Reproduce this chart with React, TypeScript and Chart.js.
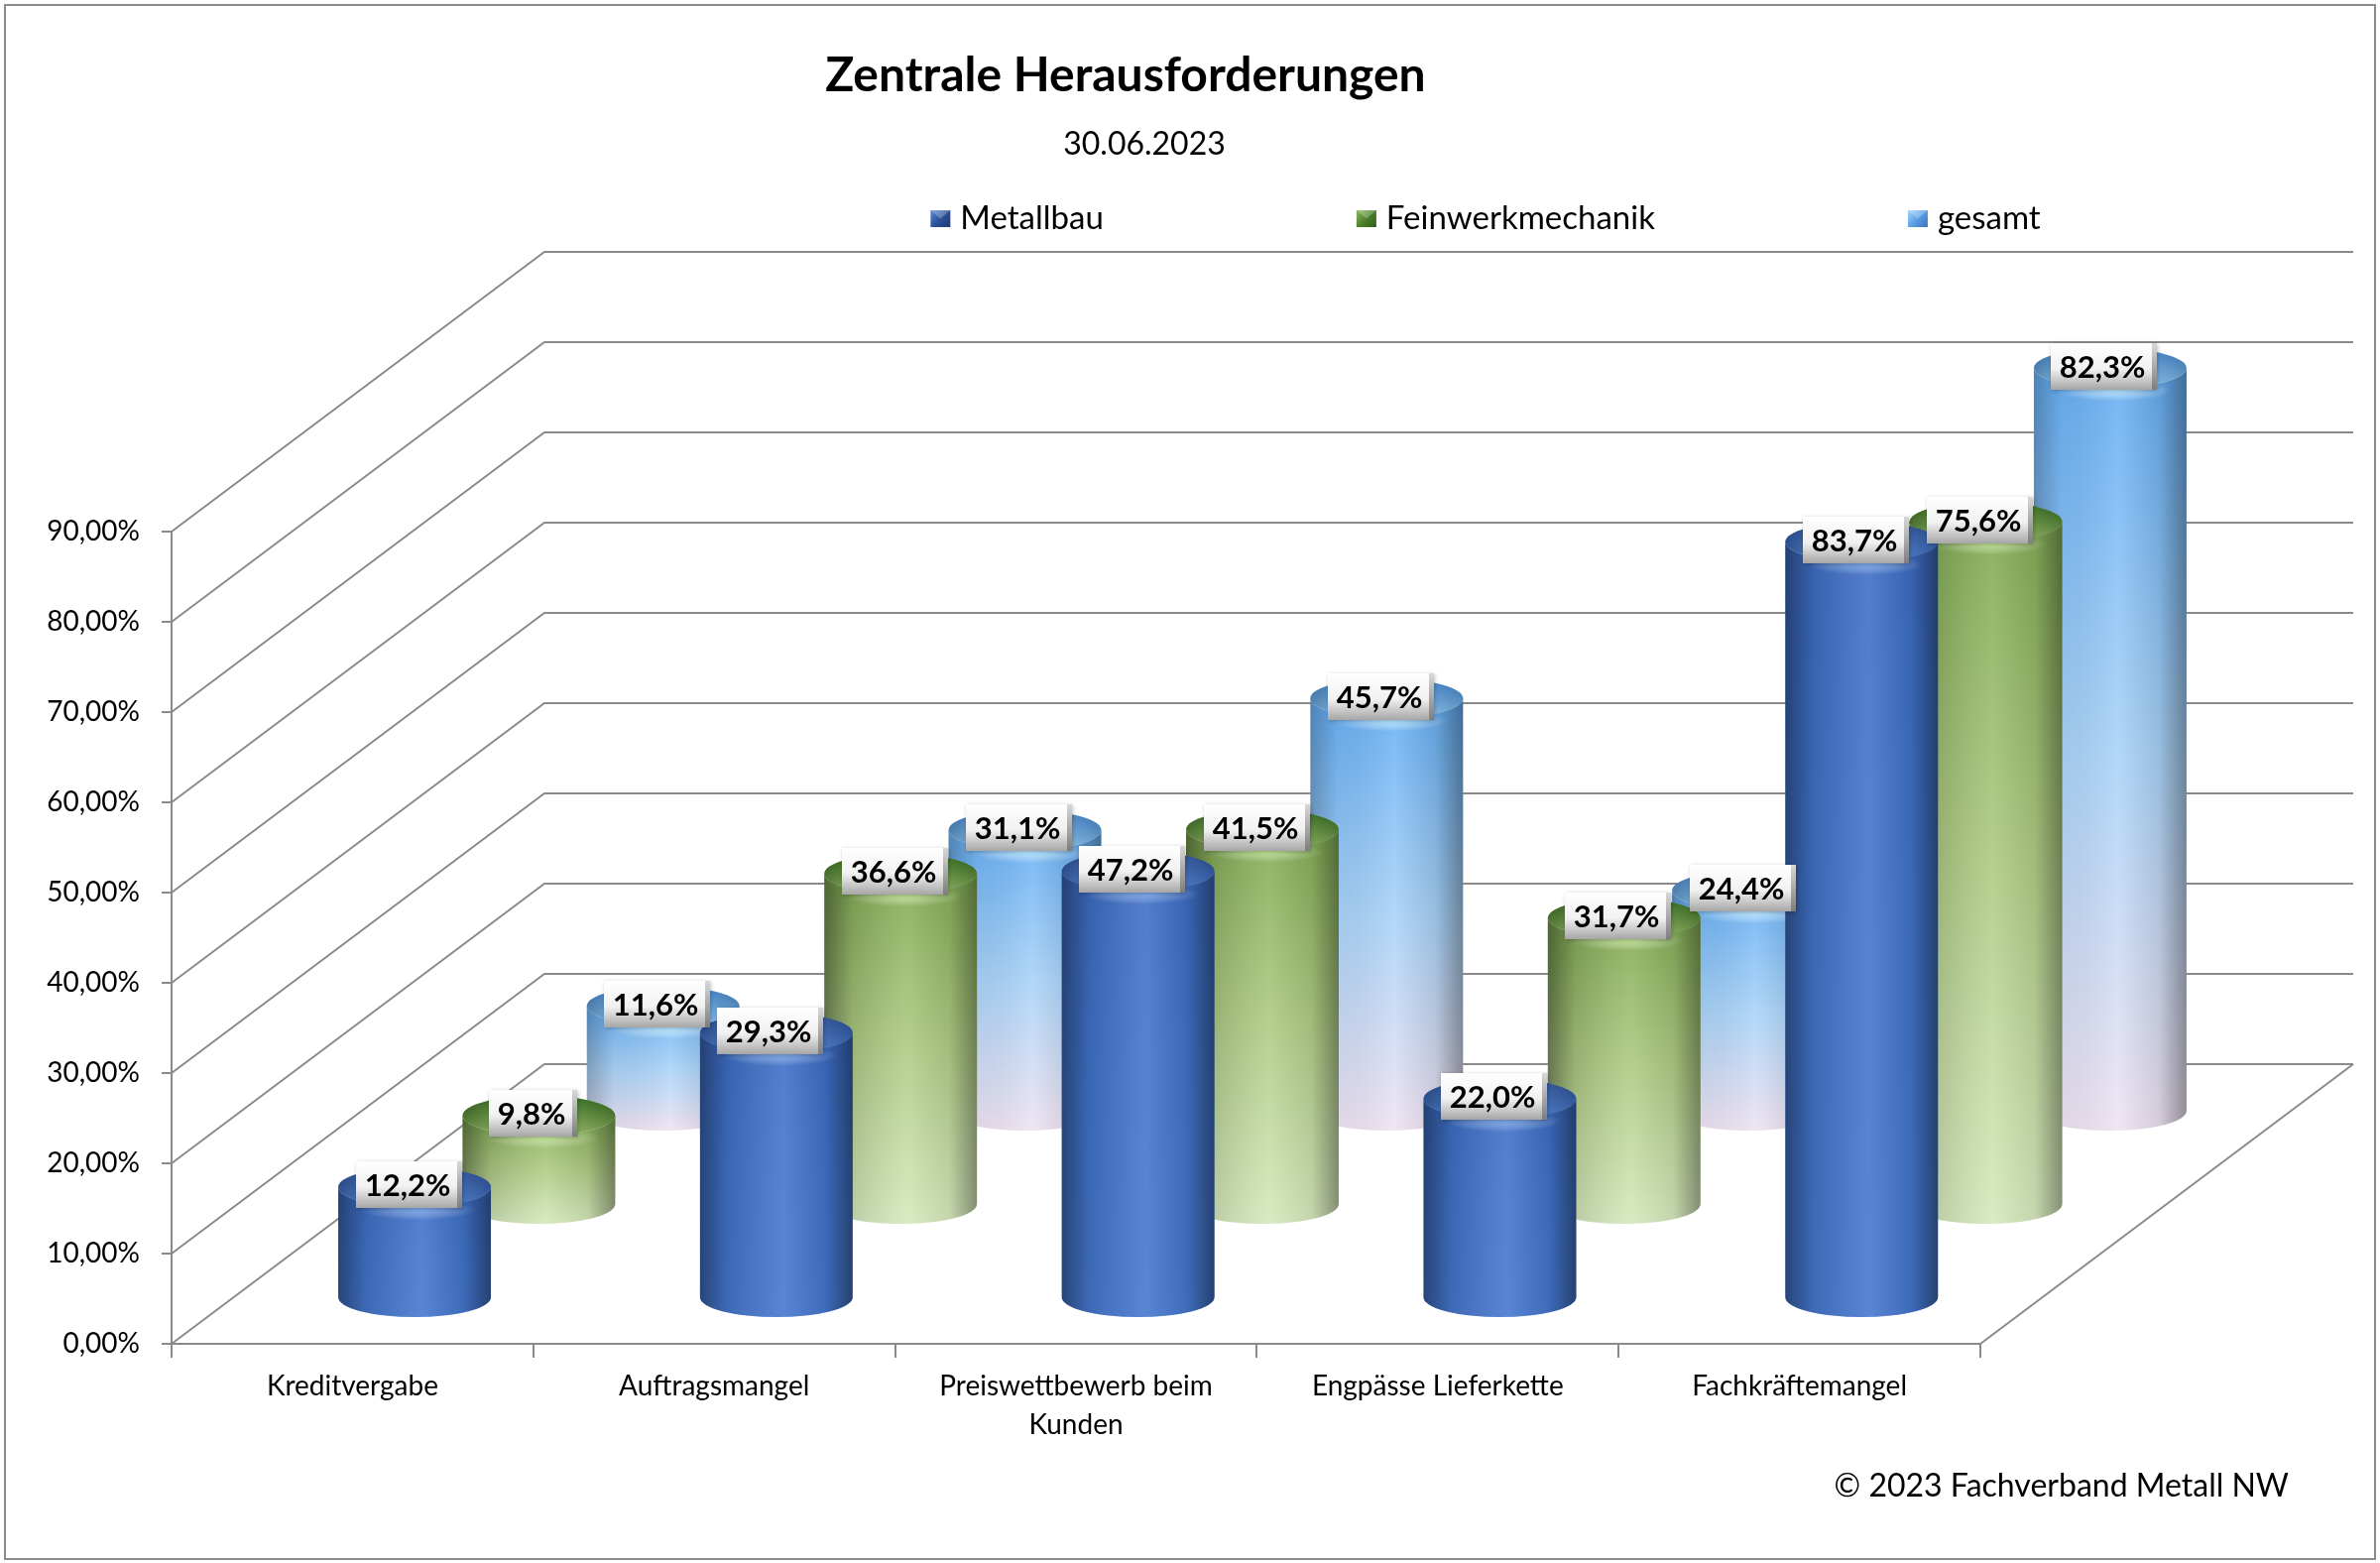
import React, { useEffect, useRef } from 'react';
import { Chart, registerables } from 'chart.js';

Chart.register(...registerables);

// ---------- data ----------
const categories: (string | string[])[] = [
  'Kreditvergabe',
  'Auftragsmangel',
  ['Preiswettbewerb beim', 'Kunden'],
  'Engpässe Lieferkette',
  'Fachkräftemangel',
];
const seriesNames = ['Metallbau', 'Feinwerkmechanik', 'gesamt'];
const metallbau = [12.2, 29.3, 47.2, 22.0, 83.7];
const feinwerkmechanik = [9.8, 36.6, 41.5, 31.7, 75.6];
const gesamt = [11.6, 31.1, 45.7, 24.4, 82.3];
const yMin = 0;
const yMax = 90;
const yStep = 10;
const chartTitle = 'Zentrale Herausforderungen';
const chartSubtitle = '30.06.2023';
const copyright = '© 2023 Fachverband Metall NW';

// ---------- styling ----------
const FONT = 'Lato, "Open Sans", "DejaVu Sans", sans-serif';
const LINE = '#8a8a8a';
const DX = 376; // depth offset x
const DY = -282; // depth offset y

type Pal = {
  side: [string, string, string];
  shade: [number, number, number, number, number];
  topBack: string;
  topFront: string;
  glow: string;
  legend: [string, string, string];
};

const palettes: Pal[] = [
  {
    side: ['#3e6ec6', '#4275cd', '#4577cf'],
    shade: [0.42, 0.12, -0.1, 0.1, 0.45],
    topBack: '#2a519e',
    topFront: '#4a7fd6',
    glow: 'rgba(150,200,255,0.55)',
    legend: ['#5b8ad8', '#2c4f98', '#1d3a78'],
  },
  {
    side: ['#82ab55', '#b0cc86', '#d7e9be'],
    shade: [0.42, 0.12, -0.08, 0.08, 0.38],
    topBack: '#2f6c17',
    topFront: '#93bb62',
    glow: 'rgba(220,255,170,0.6)',
    legend: ['#8ab65a', '#4d7f2a', '#2f5c17'],
  },
  {
    side: ['#66aef3', '#a9d3f8', '#efe3f2'],
    shade: [0.25, 0.05, -0.1, 0.1, 0.38],
    topBack: '#3f86d4',
    topFront: '#8ecaf8',
    glow: 'rgba(200,245,255,0.7)',
    legend: ['#a8d4fa', '#5a9ee6', '#3a70b8'],
  },
];

function fmtTick(v: number) {
  return v.toFixed(2).replace('.', ',') + '%';
}
function fmtLabel(v: number) {
  return v.toFixed(1).replace('.', ',') + '%';
}

function shadeStop(a: number) {
  return a >= 0 ? `rgba(0,0,0,${a})` : `rgba(255,255,255,${-a})`;
}

function drawCylinder(
  ctx: CanvasRenderingContext2D,
  cx: number,
  topY: number,
  baseY: number,
  r: number,
  ry: number,
  p: Pal
) {
  ctx.save();
  // side
  const side = new Path2D();
  side.moveTo(cx - r, topY);
  side.lineTo(cx - r, baseY);
  side.ellipse(cx, baseY, r, ry, 0, Math.PI, 0, true);
  side.lineTo(cx + r, topY);
  side.ellipse(cx, topY, r, ry, 0, 0, Math.PI, false);
  side.closePath();
  const vg = ctx.createLinearGradient(0, topY, 0, baseY + ry);
  vg.addColorStop(0, p.side[0]);
  vg.addColorStop(0.5, p.side[1]);
  vg.addColorStop(1, p.side[2]);
  ctx.fillStyle = vg;
  ctx.fill(side);
  const hg = ctx.createLinearGradient(cx - r, 0, cx + r, 0);
  hg.addColorStop(0, shadeStop(p.shade[0]));
  hg.addColorStop(0.18, shadeStop(p.shade[1]));
  hg.addColorStop(0.55, shadeStop(p.shade[2]));
  hg.addColorStop(0.82, shadeStop(p.shade[3]));
  hg.addColorStop(1, shadeStop(p.shade[4]));
  ctx.fillStyle = hg;
  ctx.fill(side);

  // glow just below the top rim
  ctx.save();
  ctx.clip(side);
  const gx = cx + r * 0.05;
  const gy = topY + ry * 1.15;
  ctx.translate(gx, gy);
  ctx.scale(1, 0.18);
  const rg = ctx.createRadialGradient(0, 0, 0, 0, 0, r * 0.75);
  rg.addColorStop(0, p.glow);
  rg.addColorStop(1, 'rgba(255,255,255,0)');
  ctx.fillStyle = rg;
  ctx.beginPath();
  ctx.arc(0, 0, r * 0.75, 0, Math.PI * 2);
  ctx.fill();
  ctx.restore();

  // top
  const tg = ctx.createLinearGradient(0, topY - ry, 0, topY + ry);
  tg.addColorStop(0, p.topBack);
  tg.addColorStop(1, p.topFront);
  ctx.fillStyle = tg;
  ctx.beginPath();
  ctx.ellipse(cx, topY, r, ry, 0, 0, Math.PI * 2);
  ctx.fill();
  const th = ctx.createLinearGradient(cx - r, 0, cx + r, 0);
  th.addColorStop(0, 'rgba(0,0,0,0.25)');
  th.addColorStop(0.5, 'rgba(255,255,255,0.08)');
  th.addColorStop(1, 'rgba(0,0,0,0.2)');
  ctx.fillStyle = th;
  ctx.fill();
  ctx.restore();
}

function drawLabel(ctx: CanvasRenderingContext2D, x: number, y: number, text: string) {
  ctx.save();
  ctx.font = `bold 31px ${FONT}`;
  const tw = ctx.measureText(text).width;
  const w = Math.round(tw + 20);
  const h = 47;
  const bx = Math.round(x - w / 2);
  const by = Math.round(y - h / 2);
  ctx.shadowColor = 'rgba(0,0,0,0.25)';
  ctx.shadowBlur = 4;
  ctx.shadowOffsetX = 1;
  ctx.shadowOffsetY = 1;
  const g = ctx.createLinearGradient(0, by, 0, by + h);
  g.addColorStop(0, '#ffffff');
  g.addColorStop(0.55, '#f1f1f1');
  g.addColorStop(1, '#a6a6a6');
  ctx.fillStyle = g;
  ctx.fillRect(bx, by, w, h);
  ctx.shadowColor = 'transparent';
  const rg = ctx.createLinearGradient(0, by, 0, by + h);
  rg.addColorStop(0, '#d8d8d8');
  rg.addColorStop(1, '#7d7d7d');
  ctx.fillStyle = rg;
  ctx.fillRect(bx + w - 5, by, 5, h);
  ctx.fillStyle = '#000';
  ctx.textAlign = 'center';
  ctx.textBaseline = 'middle';
  ctx.fillText(text, bx + (w - 5) / 2 + 1, by + h / 2 + 1);
  ctx.restore();
}

const cylinderPlugin = {
  id: 'cylinder3d',
  beforeDatasetsDraw(chart: any) {
    const ctx: CanvasRenderingContext2D = chart.ctx;
    const xs = chart.scales.x;
    const ys = chart.scales.y;
    const { left, right, bottom } = chart.chartArea;

    // walls & floor
    ctx.save();
    ctx.strokeStyle = LINE;
    ctx.lineWidth = 2;
    ys.ticks.forEach((t: any) => {
      const y = ys.getPixelForValue(t.value);
      ctx.beginPath();
      ctx.moveTo(left, y);
      ctx.lineTo(left + DX, y + DY);
      ctx.lineTo(right + DX, y + DY);
      ctx.stroke();
    });
    ctx.beginPath();
    ctx.moveTo(right, bottom);
    ctx.lineTo(right + DX, bottom + DY);
    ctx.stroke();
    ctx.restore();

    const catW = xs.getPixelForValue(1) - xs.getPixelForValue(0);
    const r = catW * 0.211;
    const ry = 20;
    const n = chart.data.datasets.length;
    const labels: { x: number; y: number; t: string }[] = [];
    for (let d = n - 1; d >= 0; d--) {
      const ds = chart.data.datasets[d];
      const f = (d + 0.5) / n;
      ds.data.forEach((v: number, i: number) => {
        const cx = xs.getPixelForValue(i) + DX * f;
        const baseY = ys.getPixelForValue(0) + DY * f;
        const topY = ys.getPixelForValue(v) + DY * f;
        drawCylinder(ctx, cx, topY, baseY, r, ry, palettes[d]);
        labels.push({ x: cx - 6, y: topY - 2, t: fmtLabel(v) });
      });
    }
    labels.forEach((l) => drawLabel(ctx, l.x, l.y, l.t));
    return false;
  },
  afterDraw(chart: any) {
    const ctx: CanvasRenderingContext2D = chart.ctx;
    ctx.save();
    ctx.fillStyle = '#000';
    ctx.textBaseline = 'alphabetic';
    ctx.textAlign = 'center';
    ctx.font = `bold 48px ${FONT}`;
    ctx.fillText(chartTitle, 1135, 92);
    ctx.font = `32px ${FONT}`;
    ctx.fillText(chartSubtitle, 1154, 156);

    // legend
    ctx.font = `33px ${FONT}`;
    ctx.textAlign = 'left';
    const names = chart.data.datasets.map((d: any) => d.label);
    const widths = names.map((t: string) => ctx.measureText(t).width);
    const gap = 255;
    const total = widths.reduce((a: number, w: number) => a + w + 30, 0) + gap * (names.length - 1);
    let x = 1498 - total / 2;
    names.forEach((t: string, i: number) => {
      const p = palettes[i].legend;
      const g = ctx.createLinearGradient(x, 212, x + 20, 229);
      g.addColorStop(0, p[0]);
      g.addColorStop(0.5, p[1]);
      g.addColorStop(1, p[2]);
      ctx.fillStyle = g;
      ctx.fillRect(x, 212, 20, 17);
      ctx.fillStyle = 'rgba(255,255,255,0.25)';
      ctx.beginPath();
      ctx.moveTo(x, 212);
      ctx.lineTo(x + 20, 212);
      ctx.lineTo(x + 10, 220.5);
      ctx.closePath();
      ctx.fill();
      ctx.fillStyle = '#000';
      ctx.fillText(t, x + 30, 231);
      x += 30 + widths[i] + gap;
    });

    ctx.textAlign = 'right';
    ctx.font = `32px ${FONT}`;
    ctx.fillText(copyright, 2308, 1509);

    ctx.strokeStyle = '#8c8c8c';
    ctx.lineWidth = 2;
    ctx.strokeRect(5, 5, 2390, 1567);
    ctx.restore();
  },
};

export default function App() {
  const ref = useRef<HTMLCanvasElement | null>(null);
  useEffect(() => {
    if (!ref.current) return;
    const chart = new Chart(ref.current, {
      type: 'bar',
      data: {
        labels: categories as any,
        datasets: [
          { label: seriesNames[0], data: metallbau, backgroundColor: '#4275cd' },
          { label: seriesNames[1], data: feinwerkmechanik, backgroundColor: '#8fb860' },
          { label: seriesNames[2], data: gesamt, backgroundColor: '#6fb4f3' },
        ],
      },
      options: {
        animation: false,
        responsive: false,
        devicePixelRatio: 1,
        layout: { padding: { left: 0, top: 536, right: 403, bottom: 121 } },
        plugins: {
          legend: { display: false },
          title: { display: false },
          tooltip: { enabled: false },
        },
        scales: {
          x: {
            afterFit: (s: any) => {
              s.height = 100;
            },
            grid: {
              offset: true,
              drawOnChartArea: false,
              drawTicks: true,
              tickLength: 14,
              color: LINE,
              lineWidth: 2,
            },
            border: { display: true, color: LINE, width: 2 },
            ticks: {
              autoSkip: false,
              maxRotation: 0,
              minRotation: 0,
              padding: 10,
              color: '#000',
              font: { family: FONT, size: 28, lineHeight: 1.38 },
            },
          },
          y: {
            min: yMin,
            max: yMax,
            afterFit: (s: any) => {
              s.width = 173;
            },
            grid: {
              drawOnChartArea: false,
              drawTicks: true,
              tickLength: 10,
              color: LINE,
              lineWidth: 2,
            },
            border: { display: true, color: LINE, width: 2 },
            ticks: {
              stepSize: yStep,
              padding: 22,
              color: '#000',
              font: { family: FONT, size: 28 },
              callback: (v: any) => fmtTick(Number(v)),
            },
          },
        },
      },
      plugins: [cylinderPlugin],
    });
    return () => chart.destroy();
  }, []);
  return (
    <div style={{ position: 'fixed', left: 0, top: 0, width: 2400, height: 1576, background: '#fff' }}>
      <canvas ref={ref} width={2400} height={1576} style={{ width: 2400, height: 1576, display: 'block' }} />
    </div>
  );
}
